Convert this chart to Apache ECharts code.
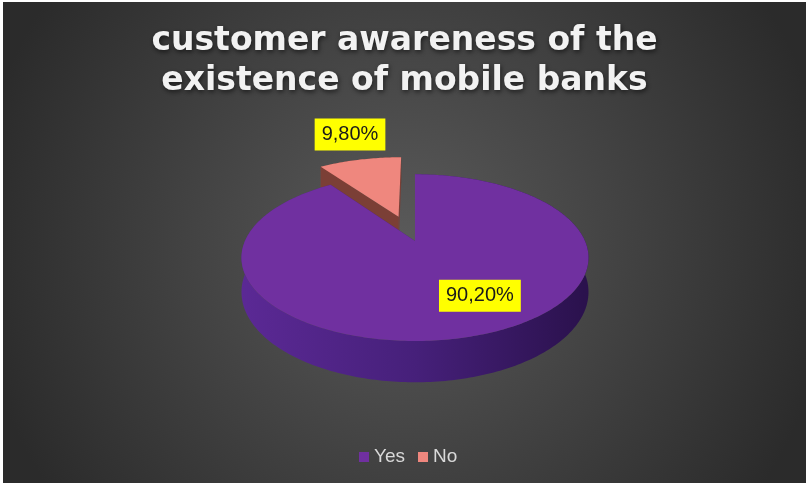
<!DOCTYPE html>
<html>
<head>
<meta charset="utf-8">
<script src="https://cdn.jsdelivr.net/npm/echarts@6/dist/echarts.min.js"></script>
<style>
  html, body { margin: 0; padding: 0; width: 806px; height: 486px; overflow: hidden; background: #ffffff; }
  #chart { position: absolute; left: 3px; top: 2px; width: 803px; height: 481px; }
</style>
</head>
<body>
<div id="chart"></div>
<script>
// ---- data ----
const categories = ['Yes', 'No'];
const shares = [90.2, 9.8];

// ---- appearance ----
const topColors = ['#7030A0', '#EF877E'];
const wallStops = [
  ['#5B2995', '#46207A', '#2A114C'],
  ['#8A4A40', '#7B3F36', '#5E2E27']
];
const explode = [0, 0.34];                 // pull-out distance, in radius units
const labelRadius = [0.6, 1.0];
const labelOffsets = [[30, 3], [-10, -25]];

// Tilted disc seen in perspective:
// x = cx + B*u*s, y = cy + A*v*s (+ D*s on the lower rim), with s = 1 / (1 - k*v)
const DISC = { cx: 412, cy: 239, B: 170, A: 80, k: 0.2, D: 33 };

const total = shares.reduce((a, b) => a + b, 0);
const TWO_PI = Math.PI * 2;

function sliceAngles(i) {
  let before = 0;
  for (let j = 0; j < i; j++) before += shares[j];
  return [before / total * TWO_PI, (before + shares[i]) / total * TWO_PI];
}

function project(u, v, lower) {
  const s = 1 / (1 - DISC.k * v);
  return [DISC.cx + DISC.B * u * s, DISC.cy + DISC.A * v * s + (lower ? DISC.D * s : 0)];
}

function formatShare(v) {
  return v.toFixed(2).replace('.', ',') + '%';
}

function renderSlice(i) {
  return function (params, api) {
    const value = api.value(0);
    const [a0] = sliceAngles(i);
    const a1 = a0 + value / total * TWO_PI;
    const mid = (a0 + a1) / 2;
    const e = explode[i];
    const ox = e * Math.sin(mid), oy = -e * Math.cos(mid);
    const P = (th, r, lower) => project(ox + r * Math.sin(th), oy - r * Math.cos(th), lower);

    const n = Math.max(8, Math.ceil((a1 - a0) / (Math.PI / 180)));
    const rimTop = [], rimBot = [];
    for (let t = 0; t <= n; t++) {
      const th = a0 + (a1 - a0) * t / n;
      rimTop.push(P(th, 1, false));
      rimBot.push(P(th, 1, true));
    }
    const cTop = P(0, 0, false), cBot = P(0, 0, true);
    const stops = wallStops[i];
    const wallFill = new echarts.graphic.LinearGradient(0, 0, 1, 0, [
      { offset: 0, color: stops[0] },
      { offset: 0.5, color: stops[1] },
      { offset: 1, color: stops[2] }
    ]);

    const anchor = P(mid, labelRadius[i], false);
    return {
      type: 'group',
      children: [
        { type: 'polygon', z2: 1, shape: { points: rimTop.concat(rimBot.slice().reverse()) }, style: { fill: wallFill } },
        { type: 'polygon', z2: 2, shape: { points: [cTop, rimTop[0], rimBot[0], cBot] }, style: { fill: stops[1] } },
        { type: 'polygon', z2: 2, shape: { points: [cTop, rimTop[n], rimBot[n], cBot] }, style: { fill: stops[1] } },
        { type: 'polygon', z2: 3, shape: { points: [cTop].concat(rimTop) }, style: { fill: topColors[i] } },
        {
          type: 'text', z2: 10,
          x: anchor[0] + labelOffsets[i][0],
          y: anchor[1] + labelOffsets[i][1],
          style: {
            text: formatShare(value),
            fill: '#1a1a1a',
            fontSize: 20,
            fontFamily: 'Liberation Sans, Arial, sans-serif',
            align: 'center',
            verticalAlign: 'middle',
            backgroundColor: '#FFFF00',
            padding: [6, 7, 6, 7]
          }
        }
      ]
    };
  };
}

const series = categories.map((name, i) => {
  const [a0, a1] = sliceAngles(i);
  const mid = (a0 + a1) / 2;
  return {
    type: 'custom',
    name: name,
    coordinateSystem: 'none',
    z: 2 + Math.round((1 - Math.cos(mid)) * 5),
    itemStyle: { color: topColors[i] },
    data: [[shares[i]]],
    renderItem: renderSlice(i)
  };
});

const chart = echarts.init(document.getElementById('chart'));
chart.setOption({
  animation: false,
  backgroundColor: new echarts.graphic.RadialGradient(0.5, 0.5, 0.9, [
    { offset: 0, color: '#5a5a5a' },
    { offset: 1, color: '#2b2b2b' }
  ]),
  title: {
    text: 'customer awareness of the\nexistence of mobile banks',
    left: 'center',
    top: 19,
    padding: 0,
    textStyle: {
      color: '#F2F2F2',
      fontFamily: 'DejaVu Sans',
      fontWeight: 'bold',
      fontSize: 33,
      lineHeight: 40,
      textShadowColor: 'rgba(0,0,0,0.6)',
      textShadowBlur: 5,
      textShadowOffsetX: 1,
      textShadowOffsetY: 2
    }
  },
  legend: {
    data: categories,
    icon: 'rect',
    itemWidth: 10,
    itemHeight: 10,
    itemGap: 13,
    left: 356,
    top: 445,
    padding: 0,
    textStyle: { color: '#D9D9D9', fontSize: 19, lineHeight: 20, fontFamily: 'Liberation Sans, Arial, sans-serif' }
  },
  series: series
});
</script>
</body>
</html>
